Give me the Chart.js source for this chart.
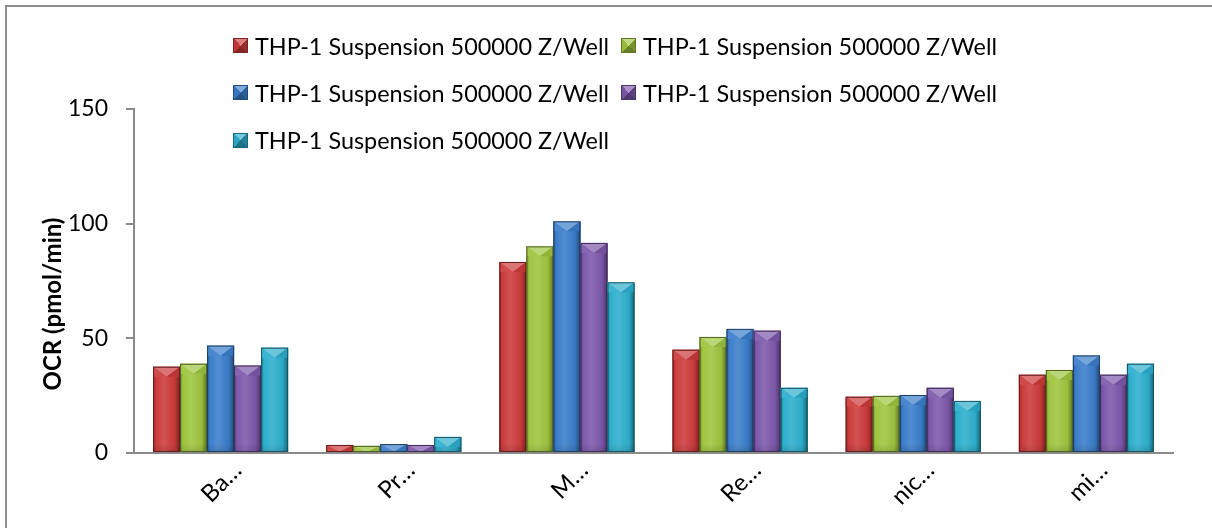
<!DOCTYPE html>
<html>
<head>
<meta charset="utf-8">
<script src="https://cdn.jsdelivr.net/npm/chart.js@4/dist/chart.umd.min.js"></script>
<style>
  html, body { margin:0; padding:0; background:#fff; }
  #wrap { position:relative; width:1212px; height:528px; overflow:hidden; background:#fff; }
  #c { position:absolute; left:0; top:0; }
  #frame { position:absolute; left:5px; top:5px; width:1300px; height:600px;
           border-top:2px solid #8e8e8e; border-left:2px solid #8e8e8e; pointer-events:none; }
  #legend { position:absolute; left:233px; top:22px; display:grid;
            grid-template-columns: 388px 388px; row-gap:0; font-family: Lato, sans-serif;
            font-size:23.4px; color:#000; }
  .item { height:47.3px; display:flex; align-items:center; white-space:nowrap; }
  .mk { width:15px; height:15px; margin-right:7px; flex:none; box-sizing:border-box; }
</style>
</head>
<body>
<div id="wrap">
  <canvas id="c" width="1212" height="528"></canvas>
  <div id="frame"></div>
  <div id="legend"></div>
</div>
<script>
// ---- data ----
const categories = ['Ba\u2026', 'Pr\u2026', 'M\u2026', 'Re\u2026', 'nic\u2026', 'mi\u2026'];
const seriesNames = [
  'THP-1 Suspension 500000 Z/Well',
  'THP-1 Suspension 500000 Z/Well',
  'THP-1 Suspension 500000 Z/Well',
  'THP-1 Suspension 500000 Z/Well',
  'THP-1 Suspension 500000 Z/Well'
];
const series1 = [37.6, 3.5, 83.3, 45.0, 24.5, 34.1];
const series2 = [38.9, 3.1, 90.1, 50.6, 24.9, 36.2];
const series3 = [46.8, 3.9, 101.0, 54.1, 25.3, 42.5];
const series4 = [38.1, 3.5, 91.6, 53.3, 28.4, 34.1];
const series5 = [45.9, 7.0, 74.4, 28.4, 22.7, 38.9];
const yTicks = [0, 50, 100, 150];
const yTitle = 'OCR (pmol/min)';
const colors = ['#CC3A3A', '#9EC43E', '#3A7DCA', '#7D58AB', '#2CAECD'];

// ---- colour helpers ----
function hexToRgb(h){ h=h.replace('#',''); return [parseInt(h.substr(0,2),16),parseInt(h.substr(2,2),16),parseInt(h.substr(4,2),16)]; }
function adj(hex, f){
  const [r,g,b] = hexToRgb(hex);
  const m = v => f>=0 ? Math.round(v + (255-v)*f) : Math.round(v*(1+f));
  return 'rgb('+m(r)+','+m(g)+','+m(b)+')';
}

// ---- legend (HTML, built from series arrays) ----
const leg = document.getElementById('legend');
seriesNames.forEach((n,i)=>{
  const c = colors[i];
  const it = document.createElement('div'); it.className='item';
  const mk = document.createElement('span'); mk.className='mk';
  mk.style.background = 'conic-gradient(from -45deg, '+adj(c,0.35)+' 0deg 90deg, '+adj(c,-0.25)+' 90deg 180deg, '+adj(c,-0.35)+' 180deg 270deg, '+adj(c,-0.05)+' 270deg 360deg)';
  mk.style.border = '1px solid '+adj(c,-0.4);
  const tx = document.createElement('span'); tx.textContent = n;
  it.appendChild(mk); it.appendChild(tx); leg.appendChild(it);
});

// ---- plugins ----
const barShade = {
  id:'barShade',
  afterDatasetsDraw(chart){
    const ctx = chart.ctx;
    ctx.save();
    chart.data.datasets.forEach((ds,i)=>{
      const meta = chart.getDatasetMeta(i);
      const c = colors[i];
      meta.data.forEach(bar=>{
        const p = bar.getProps(['x','y','base','width'], true);
        const x0 = p.x - p.width/2, x1 = p.x + p.width/2;
        const top = Math.min(p.y,p.base), bot = Math.max(p.y,p.base), h = bot-top;
        if (h <= 0) return;
        const g = ctx.createLinearGradient(x0,0,x1,0);
        g.addColorStop(0, adj(c,-0.3));
        g.addColorStop(0.1, adj(c,0));
        g.addColorStop(0.4, adj(c,0.12));
        g.addColorStop(0.8, adj(c,-0.03));
        g.addColorStop(0.94, adj(c,-0.3));
        g.addColorStop(1, adj(c,-0.55));
        ctx.fillStyle = g;
        ctx.fillRect(x0, top, p.width, h);
        const bg = ctx.createLinearGradient(0, bot-8, 0, bot);
        bg.addColorStop(0,'rgba(0,0,0,0)'); bg.addColorStop(1,'rgba(0,0,0,0.12)');
        ctx.fillStyle = bg; ctx.fillRect(x0, Math.max(top,bot-8), p.width, Math.min(8,h));
        const bh = Math.min(10, h);
        ctx.beginPath();
        ctx.moveTo(x0, top); ctx.lineTo(x1, top); ctx.lineTo(p.x, top+bh); ctx.closePath();
        ctx.fillStyle = adj(c,0.3); ctx.fill();
        ctx.beginPath();
        ctx.moveTo(x0, top); ctx.lineTo(p.x, top+bh); ctx.lineTo(x0, top+bh); ctx.closePath();
        ctx.fillStyle = adj(c,0.08); ctx.fill();
        ctx.beginPath();
        ctx.moveTo(x1, top); ctx.lineTo(p.x, top+bh); ctx.lineTo(x1, top+bh); ctx.closePath();
        ctx.fillStyle = adj(c,-0.08); ctx.fill();
        ctx.fillStyle = adj(c,0.45); ctx.fillRect(x0, top, p.width, 1);
        ctx.strokeStyle = adj(c,-0.5); ctx.lineWidth = 1;
        ctx.strokeRect(x0+0.5, top+0.5, p.width-1, h-1);
      });
    });
    ctx.restore();
  }
};
const yTitlePlugin = {
  id:'yTitlePlugin',
  afterDraw(chart){
    const ctx = chart.ctx, a = chart.chartArea;
    ctx.save();
    ctx.font = 'bold 24px Lato, sans-serif';
    ctx.fillStyle = '#000';
    ctx.textAlign = 'center'; ctx.textBaseline = 'middle';
    ctx.translate(53, (a.top + a.bottom)/2 + 23);
    ctx.rotate(-Math.PI/2);
    ctx.fillText(yTitle, 0, 0);
    ctx.restore();
  }
};
const whiteBg = {
  id:'whiteBg',
  beforeDraw(chart){ const ctx=chart.ctx; ctx.save(); ctx.fillStyle='#fff'; ctx.fillRect(0,0,chart.width,chart.height); ctx.restore(); }
};

function draw(){
  const datasets = [series1, series2, series3, series4, series5].map((d,i)=>({
    label: seriesNames[i], data: d, backgroundColor: colors[i], borderWidth: 0,
    categoryPercentage: 0.78, barPercentage: 1.0
  }));
  new Chart(document.getElementById('c'), {
    type:'bar',
    data:{ labels: categories, datasets },
    options:{
      responsive:false, animation:false,
      layout:{ padding:{ left:0, top:109, right:39, bottom:0 } },
      plugins:{ legend:{ display:false }, tooltip:{ enabled:false } },
      scales:{
        x:{
          grid:{ display:true, drawOnChartArea:false, drawTicks:false },
          border:{ display:true, color:'#8a8a8a', width:2 },
          ticks:{ autoSkip:false, minRotation:45, maxRotation:45, color:'#000',
                  font:{ family:'Lato, sans-serif', size:24 }, padding:3, labelOffset:17 },
          afterFit(s){ s.height = 75; }
        },
        y:{
          min:0, max:150,
          afterBuildTicks(s){ s.ticks = yTicks.map(v=>({value:v})); },
          grid:{ display:true, drawOnChartArea:false, drawTicks:true, tickLength:8, color:'#8a8a8a', lineWidth:2 },
          border:{ display:true, color:'#8a8a8a', width:2 },
          ticks:{ color:'#000', font:{ family:'Lato, sans-serif', size:23 }, padding:18 },
          afterFit(s){ s.width = 134; }
        }
      }
    },
    plugins:[whiteBg, barShade, yTitlePlugin]
  });
}
if (document.fonts && document.fonts.load) {
  Promise.all([document.fonts.load('23px Lato'), document.fonts.load('bold 24px Lato')]).then(draw, draw);
} else { draw(); }
</script>
</body>
</html>
